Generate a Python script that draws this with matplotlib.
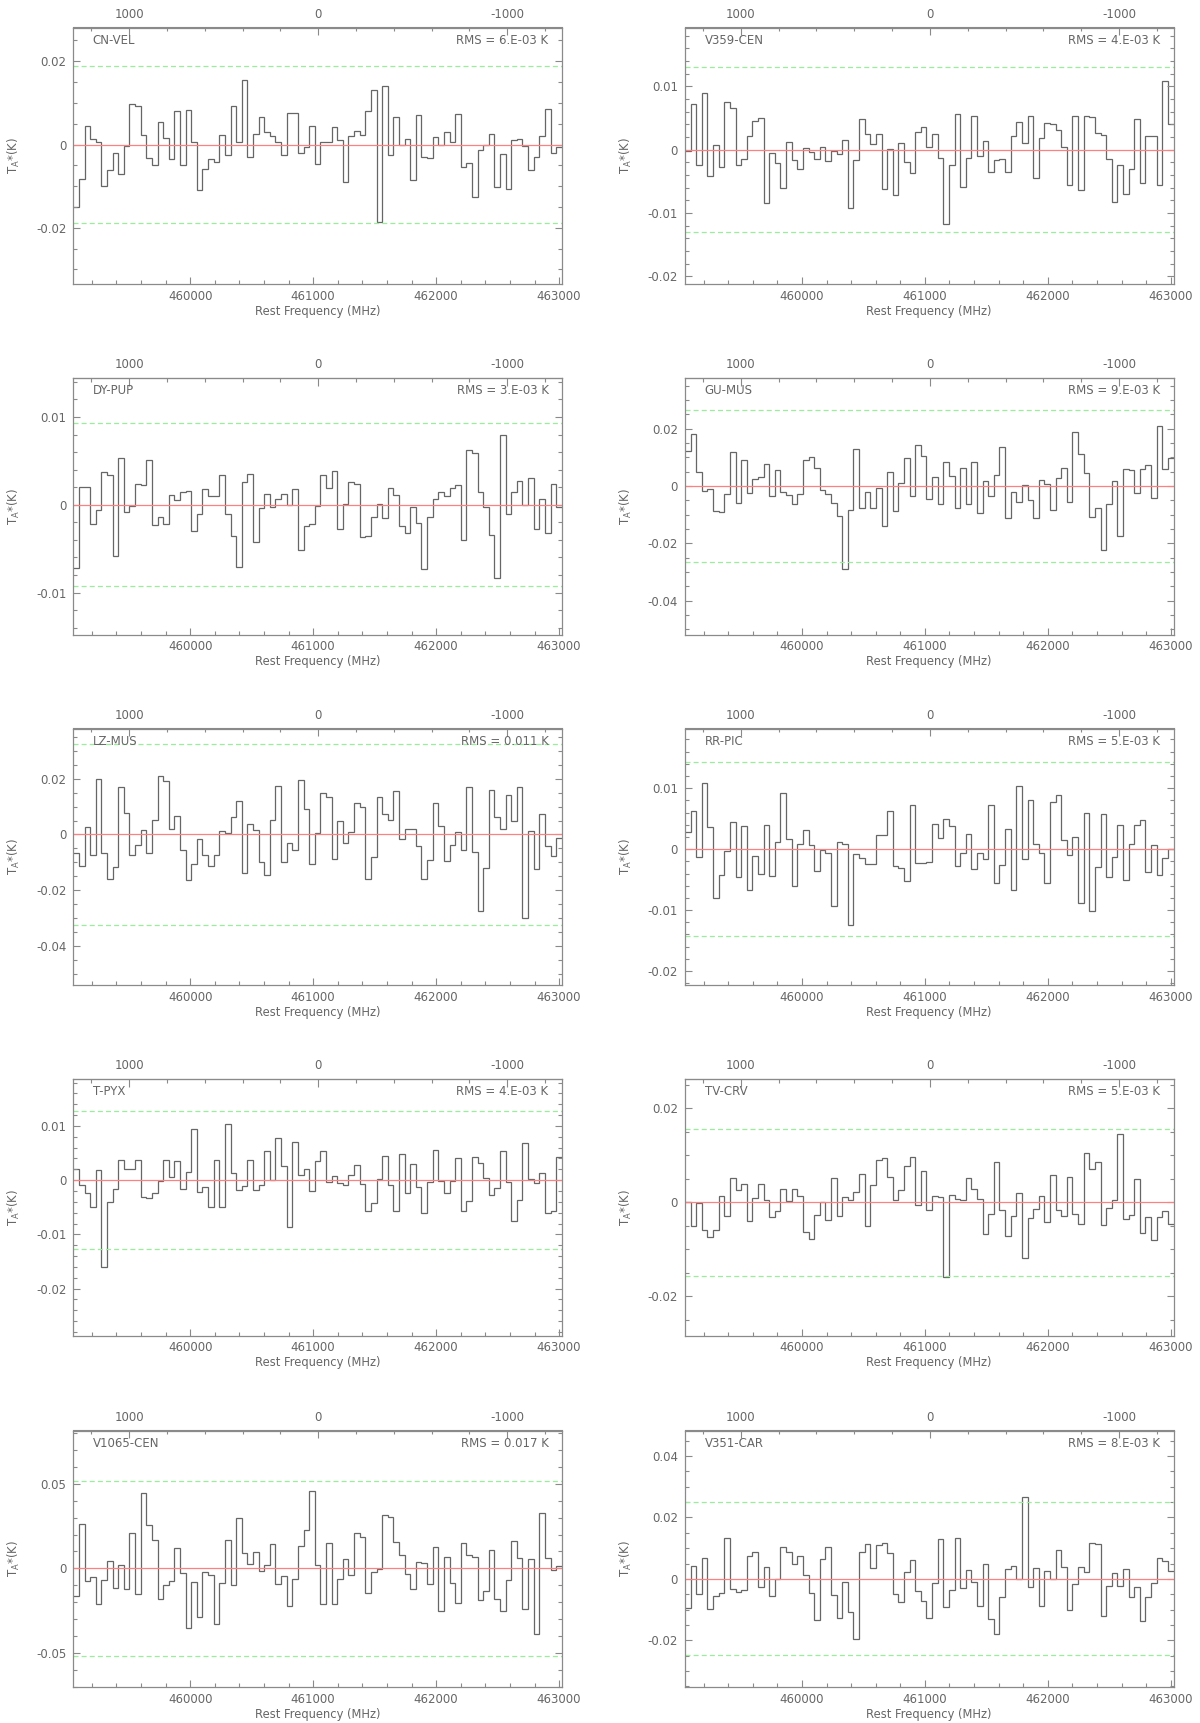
import numpy as np
import matplotlib
matplotlib.use("Agg")
import matplotlib.pyplot as plt
from matplotlib.ticker import MultipleLocator, FixedLocator, FuncFormatter

plt.rcParams["axes.unicode_minus"] = False
plt.rcParams["font.family"] = ["DejaVu Sans"]

# frequency axis (MHz) and CO(4-3) rest frequency for the velocity scale
f_start = 459049.0
f_stop = 463022.0
n_chan = 87
f_co = 461040.768
c_kms = 299792.458

sources = ["CN-VEL", "V359-CEN", "DY-PUP", "GU-MUS", "LZ-MUS",
           "RR-PIC", "T-PYX", "TV-CRV", "V1065-CEN", "V351-CAR"]
rms_labels = ["RMS = 6.E-03 K", "RMS = 4.E-03 K", "RMS = 3.E-03 K", "RMS = 9.E-03 K",
              "RMS = 0.011 K", "RMS = 5.E-03 K", "RMS = 4.E-03 K", "RMS = 5.E-03 K",
              "RMS = 0.017 K", "RMS = 8.E-03 K"]
three_sigma = [0.0188, 0.0130, 0.0093, 0.0266, 0.0326, 0.0143, 0.0127, 0.0156, 0.052, 0.0249]
y_limits = [(-0.0335, 0.0281), (-0.0212, 0.0193), (-0.0148, 0.0144), (-0.0519, 0.0376),
            (-0.054, 0.038), (-0.0223, 0.0198), (-0.0287, 0.0186), (-0.0284, 0.0262),
            (-0.0702, 0.0816), (-0.0352, 0.0483)]
y_major = [0.02, 0.01, 0.01, 0.02, 0.02, 0.01, 0.01, 0.02, 0.05, 0.02]
y_minor = [0.005, 0.002, 0.002, 0.005, 0.005, 0.002, 0.002, 0.005, 0.01, 0.005]

cn_vel = [-0.0151, -0.0084, 0.0044, 0.0013, 0.0005, -0.0100, -0.0061, -0.0021, -0.0072, -0.0004,
          0.0098, 0.0093, 0.0024, -0.0032, -0.0050, 0.0055, 0.0016, -0.0035, 0.0080, -0.0050,
          0.0082, 0.0006, -0.0110, -0.0059, -0.0034, -0.0041, 0.0022, -0.0026, 0.0093, 0.0007,
          0.0156, -0.0030, 0.0026, 0.0067, 0.0029, 0.0020, 0.0006, -0.0026, 0.0075, 0.0075,
          -0.0021, -0.0006, 0.0044, -0.0046, 0.0007, 0.0007, 0.0043, 0.0010, -0.0090, 0.0021,
          0.0032, 0.0022, 0.0080, 0.0130, -0.0187, 0.0140, -0.0026, 0.0065, 0.0000, 0.0013,
          -0.0085, 0.0072, -0.0030, -0.0033, 0.0018, -0.0002, 0.0031, 0.0007, 0.0074, -0.0055,
          -0.0044, -0.0126, -0.0014, 0.0000, 0.0026, -0.0102, -0.0022, -0.0106, 0.0010, 0.0013,
          -0.0003, -0.0062, -0.0029, 0.0020, 0.0086, -0.0021, -0.0006]
v359_cen = [-0.0002, 0.0073, -0.0024, 0.0090, -0.0042, 0.0008, -0.0027, 0.0075, 0.0066, -0.0024,
            -0.0014, 0.0021, 0.0045, 0.0050, -0.0084, -0.0005, -0.0021, -0.0060, 0.0013, -0.0016,
            -0.0031, 0.0002, -0.0004, -0.0014, 0.0005, -0.0017, -0.0002, -0.0006, 0.0015, -0.0092,
            -0.0016, 0.0049, 0.0025, 0.0009, 0.0025, -0.0062, 0.0001, -0.0072, 0.0011, -0.0019,
            -0.0036, 0.0028, 0.0036, 0.0005, 0.0025, -0.0013, -0.0118, -0.0024, 0.0057, -0.0059,
            -0.0013, 0.0053, -0.0010, 0.0014, -0.0035, -0.0016, -0.0014, -0.0035, 0.0021, 0.0044,
            0.0010, 0.0053, -0.0044, 0.0019, 0.0043, 0.0041, 0.0031, 0.0005, -0.0056, 0.0054,
            -0.0064, 0.0053, 0.0052, 0.0027, 0.0023, -0.0015, -0.0083, -0.0024, -0.0070, -0.0030,
            0.0048, -0.0052, 0.0021, 0.0021, -0.0055, 0.0108, 0.0041]
dy_pup = [-0.0072, 0.0020, 0.0020, -0.0022, -0.0006, 0.0037, 0.0034, -0.0058, 0.0053, -0.0008,
          -0.0001, 0.0024, 0.0022, 0.0051, -0.0023, -0.0014, -0.0022, 0.0011, 0.0006, 0.0015,
          0.0016, -0.0030, -0.0010, 0.0018, 0.0010, 0.0010, 0.0034, -0.0010, -0.0035, -0.0071,
          0.0026, 0.0035, -0.0042, -0.0004, 0.0012, -0.0003, 0.0007, 0.0012, 0.0000, 0.0018,
          -0.0052, -0.0024, -0.0022, -0.0001, 0.0034, 0.0019, 0.0038, -0.0027, 0.0001, 0.0026,
          0.0024, -0.0037, -0.0035, -0.0014, 0.0001, -0.0015, 0.0019, 0.0011, -0.0024, -0.0032,
          -0.0002, -0.0021, -0.0073, -0.0014, 0.0007, 0.0014, 0.0010, 0.0019, 0.0022, -0.0040,
          0.0062, 0.0059, 0.0015, -0.0003, -0.0034, -0.0083, 0.0080, -0.0010, 0.0014, 0.0027,
          0.0000, 0.0031, -0.0027, 0.0007, -0.0032, 0.0024, -0.0003]
gu_mus = [0.0121, 0.0180, 0.0050, -0.0017, -0.0012, -0.0086, -0.0090, -0.0027, 0.0119, -0.0059,
          0.0091, -0.0023, 0.0023, 0.0033, 0.0076, -0.0035, 0.0057, -0.0021, -0.0030, -0.0061,
          -0.0029, 0.0092, 0.0103, 0.0063, -0.0015, -0.0029, -0.0058, -0.0103, -0.0289, -0.0084,
          0.0131, -0.0075, -0.0020, -0.0076, -0.0007, -0.0140, 0.0049, -0.0087, 0.0010, 0.0099,
          -0.0034, 0.0143, 0.0106, -0.0044, 0.0031, -0.0063, 0.0084, 0.0035, -0.0076, 0.0063,
          -0.0061, 0.0084, -0.0094, 0.0019, -0.0034, 0.0038, 0.0138, -0.0112, -0.0021, -0.0055,
          0.0005, -0.0047, -0.0113, 0.0020, 0.0007, -0.0085, 0.0028, 0.0064, -0.0057, 0.0187,
          0.0113, 0.0044, -0.0108, -0.0078, -0.0222, -0.0061, 0.0019, -0.0173, 0.0059, 0.0055,
          -0.0024, 0.0059, 0.0073, -0.0041, 0.0209, 0.0061, 0.0099]
lz_mus = [-0.0068, -0.0112, 0.0027, -0.0072, 0.0199, -0.0068, -0.0160, -0.0118, 0.0170, 0.0076,
          -0.0072, -0.0039, 0.0016, -0.0068, 0.0051, 0.0210, 0.0193, 0.0020, 0.0067, -0.0054,
          -0.0165, -0.0105, -0.0017, -0.0072, -0.0113, -0.0074, 0.0012, 0.0004, 0.0061, 0.0119,
          -0.0139, 0.0036, 0.0016, -0.0100, -0.0144, 0.0051, 0.0174, -0.0098, -0.0031, -0.0057,
          0.0196, 0.0092, -0.0107, 0.0006, 0.0148, 0.0134, -0.0088, 0.0050, -0.0029, 0.0007,
          0.0111, 0.0097, -0.0161, -0.0081, 0.0135, 0.0072, 0.0051, 0.0155, -0.0018, 0.0020,
          0.0018, -0.0041, -0.0160, -0.0091, 0.0111, 0.0032, -0.0097, -0.0039, 0.0007, -0.0056,
          0.0171, -0.0062, -0.0273, -0.0121, 0.0159, 0.0063, 0.0020, 0.0143, 0.0048, 0.0171,
          -0.0301, 0.0014, -0.0124, 0.0073, -0.0043, -0.0076, -0.0014]
rr_pic = [0.0028, 0.0063, -0.0013, 0.0109, 0.0036, -0.0081, -0.0043, -0.0003, 0.0045, -0.0046,
          0.0038, -0.0067, -0.0011, -0.0041, 0.0039, -0.0044, 0.0012, 0.0092, 0.0016, -0.0060,
          0.0008, 0.0032, 0.0007, -0.0036, -0.0002, -0.0007, -0.0094, 0.0011, 0.0009, -0.0125,
          -0.0008, -0.0014, -0.0025, -0.0025, 0.0024, 0.0023, 0.0062, -0.0027, -0.0031, -0.0053,
          0.0073, -0.0022, -0.0023, -0.0021, 0.0042, 0.0019, 0.0050, 0.0038, -0.0028, -0.0007,
          0.0025, -0.0033, -0.0007, -0.0017, 0.0072, -0.0056, -0.0026, 0.0033, -0.0067, 0.0104,
          -0.0016, 0.0081, 0.0009, -0.0007, -0.0055, 0.0078, 0.0089, 0.0015, -0.0010, 0.0020,
          -0.0089, 0.0060, -0.0102, -0.0030, 0.0058, -0.0045, -0.0013, 0.0040, -0.0050, 0.0008,
          0.0039, 0.0048, -0.0037, 0.0007, -0.0043, -0.0015, 0.0000]
t_pyx = [0.0020, -0.0009, -0.0023, -0.0050, 0.0018, -0.0161, -0.0040, -0.0017, 0.0038, 0.0020,
         0.0020, 0.0038, -0.0031, -0.0033, -0.0023, -0.0001, 0.0038, 0.0006, 0.0036, -0.0017,
         0.0015, 0.0095, -0.0022, -0.0012, -0.0050, 0.0038, -0.0050, 0.0103, 0.0013, -0.0018,
         -0.0010, 0.0038, -0.0018, -0.0009, 0.0053, 0.0001, 0.0077, 0.0027, -0.0087, 0.0070,
         0.0010, 0.0020, -0.0020, 0.0036, 0.0053, -0.0004, 0.0007, -0.0006, -0.0008, 0.0010,
         0.0028, -0.0007, -0.0057, -0.0042, 0.0003, 0.0045, -0.0009, -0.0057, 0.0049, -0.0023,
         0.0030, -0.0012, -0.0060, -0.0003, 0.0055, -0.0001, -0.0024, -0.0002, 0.0041, -0.0056,
         -0.0038, 0.0042, 0.0032, 0.0004, -0.0028, -0.0014, 0.0054, -0.0004, -0.0076, -0.0037,
         0.0068, 0.0002, -0.0005, 0.0014, -0.0061, -0.0056, 0.0043]
tv_crv = [0.0000, -0.0050, -0.0001, -0.0059, -0.0073, -0.0058, 0.0013, -0.0028, 0.0051, 0.0026,
          0.0040, -0.0040, 0.0010, 0.0040, 0.0006, -0.0032, -0.0019, 0.0028, 0.0004, 0.0029,
          0.0014, -0.0063, -0.0077, -0.0026, 0.0001, -0.0038, 0.0051, -0.0030, 0.0011, 0.0005,
          0.0022, 0.0061, -0.0050, 0.0036, 0.0090, 0.0094, 0.0053, 0.0006, 0.0026, 0.0077,
          0.0097, -0.0006, 0.0067, -0.0016, 0.0013, 0.0011, -0.0159, 0.0016, 0.0008, 0.0005,
          0.0051, 0.0028, 0.0007, -0.0067, -0.0025, 0.0085, -0.0017, -0.0071, -0.0029, 0.0019,
          -0.0118, -0.0033, -0.0015, 0.0013, -0.0042, 0.0058, -0.0017, -0.0028, 0.0055, -0.0025,
          -0.0046, 0.0106, 0.0071, 0.0087, -0.0049, -0.0012, 0.0006, 0.0145, -0.0035, -0.0026,
          0.0049, -0.0065, -0.0032, -0.0081, -0.0031, -0.0019, -0.0045]
v1065_cen = [-0.0162, 0.0265, -0.0077, -0.0053, -0.0211, -0.0069, 0.0043, -0.0117, 0.0018, -0.0121,
             0.0211, -0.0152, 0.0447, 0.0257, 0.0170, -0.0184, -0.0097, -0.0073, 0.0119, -0.0026,
             -0.0352, -0.0079, -0.0285, -0.0020, -0.0042, -0.0330, -0.0089, 0.0170, -0.0097, 0.0300,
             0.0091, 0.0028, 0.0099, -0.0016, 0.0020, 0.0142, -0.0091, -0.0047, -0.0223, -0.0061,
             0.0132, 0.0227, 0.0457, 0.0018, -0.0213, 0.0148, -0.0211, -0.0065, 0.0057, -0.0038,
             0.0211, 0.0188, -0.0144, -0.0024, -0.0002, 0.0318, 0.0306, 0.0154, 0.0081, -0.0036,
             -0.0121, 0.0036, 0.0034, -0.0091, 0.0128, -0.0253, 0.0067, -0.0085, -0.0202, 0.0152,
             0.0077, 0.0065, -0.0188, -0.0136, 0.0109, -0.0184, -0.0251, -0.0071, 0.0164, 0.0061,
             -0.0243, 0.0055, -0.0389, 0.0328, 0.0063, -0.0010, 0.0016]
v351_car = [-0.0096, 0.0043, -0.0048, 0.0068, -0.0099, -0.0057, -0.0047, 0.0133, -0.0033, -0.0043,
            -0.0035, 0.0073, 0.0086, -0.0025, 0.0038, -0.0057, -0.0001, 0.0104, 0.0088, 0.0050,
            0.0074, 0.0012, -0.0046, -0.0134, 0.0066, 0.0104, -0.0053, -0.0126, -0.0011, -0.0109,
            -0.0196, 0.0088, 0.0113, 0.0037, 0.0111, 0.0117, 0.0083, -0.0048, -0.0076, 0.0021,
            0.0060, -0.0040, -0.0072, -0.0128, -0.0013, 0.0130, -0.0090, -0.0035, 0.0133, -0.0030,
            0.0030, -0.0011, -0.0088, 0.0049, -0.0130, -0.0179, -0.0059, 0.0033, 0.0041, 0.0000,
            0.0267, -0.0026, 0.0037, -0.0088, 0.0025, 0.0000, 0.0095, 0.0039, -0.0100, -0.0016,
            0.0040, 0.0021, 0.0116, 0.0114, -0.0122, -0.0024, 0.0020, -0.0024, 0.0032, -0.0059,
            -0.0028, -0.0137, -0.0059, -0.0015, 0.0068, 0.0057, 0.0024]

spectra = [cn_vel, v359_cen, dy_pup, gu_mus, lz_mus, rr_pic, t_pyx, tv_crv, v1065_cen, v351_car]

edges = np.linspace(f_start, f_stop, n_chan + 1)

def f2v(f):
    return c_kms * (1.0 - np.asarray(f) / f_co)

def v2f(v):
    return f_co * (1.0 - np.asarray(v) / c_kms)

def yfmt(v, pos):
    if abs(v) < 1e-9:
        return "0"
    return "%g" % round(v, 6)

txt = "#666666"
frame = "#8a8a8a"

W, H = 1200, 1723
fig = plt.figure(figsize=(W / 100, H / 100), dpi=100)

col_left = [73.3, 685.0]
ax_w = 488.5
ax_h = 256.5
row_top = [27.5, 378.3, 728.5, 1079.3, 1430.5]

for i, name in enumerate(sources):
    r, c = divmod(i, 2)
    ax = fig.add_axes([col_left[c] / W, 1 - (row_top[r] + ax_h) / H, ax_w / W, ax_h / H])

    ax.stairs(spectra[i], edges, baseline=None, color="#666666", lw=0.9)
    ax.axhline(0, color="#ff8080", lw=0.9)
    for s in (three_sigma[i], -three_sigma[i]):
        ax.axhline(s, color="#99ee99", lw=0.9, linestyle=(0, (4, 2.5)))

    ax.set_xlim(f_start, f_stop)
    ax.set_ylim(*y_limits[i])

    ax.xaxis.set_major_locator(MultipleLocator(1000))
    ax.xaxis.set_minor_locator(MultipleLocator(200))
    ax.xaxis.set_major_formatter(FuncFormatter(lambda v, p: "%d" % v))
    ax.yaxis.set_major_locator(MultipleLocator(y_major[i]))
    ax.yaxis.set_minor_locator(MultipleLocator(y_minor[i]))
    ax.yaxis.set_major_formatter(FuncFormatter(yfmt))

    ax.tick_params(which="both", direction="in", colors=frame, labelcolor=txt,
                   labelsize=8.5, top=False, right=True)
    ax.tick_params(which="major", length=5, width=0.8)
    ax.tick_params(which="minor", length=3, width=0.8)
    ax.tick_params(axis="x", pad=4)
    ax.tick_params(axis="y", pad=5)
    for sp in ax.spines.values():
        sp.set_color(frame)
        sp.set_linewidth(0.9)

    sec = ax.secondary_xaxis("top", functions=(f2v, v2f))
    sec.xaxis.set_major_locator(FixedLocator([1000, 0, -1000]))
    sec.xaxis.set_minor_locator(MultipleLocator(200))
    sec.xaxis.set_major_formatter(FuncFormatter(lambda v, p: "%d" % round(v)))
    sec.tick_params(which="both", direction="in", colors=frame, labelcolor=txt,
                    labelsize=8.5, pad=5)
    sec.tick_params(which="major", length=6, width=0.8)
    sec.tick_params(which="minor", length=3, width=0.8)
    sec.spines["top"].set_color(frame)

    ax.set_xlabel("Rest Frequency (MHz)", color=txt, fontsize=8.3, labelpad=1.5)
    ax.set_ylabel(r"T$_\mathregular{A}$*(K)", color=txt, fontsize=8.5)
    ax.yaxis.set_label_coords(-0.104, 0.5)

    ax.text(0.04, 0.951, name, transform=ax.transAxes, color=txt, fontsize=8.5,
            ha="left", va="center")
    ax.text(0.973, 0.951, rms_labels[i], transform=ax.transAxes, color=txt, fontsize=8.5,
            ha="right", va="center")

fig.savefig("out.png", dpi=100)
